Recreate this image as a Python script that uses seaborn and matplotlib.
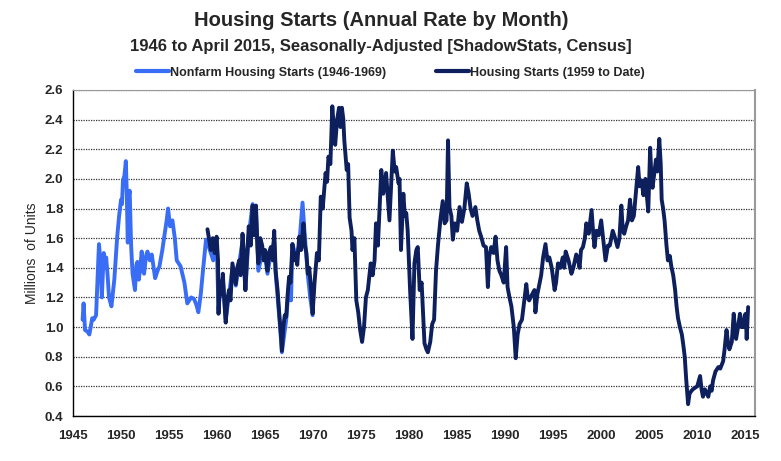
import pandas as pd
import numpy as np
import matplotlib
matplotlib.use("Agg")
import matplotlib.pyplot as plt
import seaborn as sns

# ==========================
# DATA
# ==========================
nonfarm_year = [
    1946.0, 1946.1, 1946.25, 1946.5, 1946.7, 1947.0, 1947.15, 1947.4, 1947.7, 1947.85,
    1948.0, 1948.2, 1948.35, 1948.45, 1948.6, 1948.75, 1949.0, 1949.3, 1949.6, 1949.8,
    1950.0, 1950.1, 1950.2, 1950.35, 1950.5, 1950.6, 1950.7, 1950.8, 1950.9, 1951.05,
    1951.2, 1951.45, 1951.6, 1951.7, 1951.85, 1952.0, 1952.15, 1952.3, 1952.4, 1952.6,
    1952.75, 1953.0, 1953.2, 1953.55, 1953.8, 1954.0, 1954.3, 1954.5, 1954.75, 1954.9,
    1955.1, 1955.35, 1955.6, 1955.8, 1956.2, 1956.6, 1956.9, 1957.3, 1957.6, 1957.85,
    1958.05, 1958.3, 1958.5, 1958.85, 1959.1, 1959.35, 1959.6, 1959.95, 1960.15, 1960.4,
    1960.6, 1960.9, 1961.25, 1961.6, 1961.95, 1962.3, 1962.65, 1962.95, 1963.3, 1963.7,
    1964.05, 1964.3, 1964.7, 1965.0, 1965.25, 1965.6, 1965.95, 1966.1, 1966.5, 1966.75,
    1967.2, 1967.5, 1967.7, 1967.85, 1968.2, 1968.55, 1968.9, 1969.1, 1969.45, 1969.7,
    1969.95,
]
nonfarm_val = [
    1.05, 1.16, 0.98, 0.97, 0.95, 1.06, 1.05, 1.08, 1.56, 1.45,
    1.20, 1.50, 1.40, 1.47, 1.35, 1.20, 1.14, 1.32, 1.61, 1.75,
    1.86, 1.83, 1.99, 2.02, 2.12, 1.90, 1.57, 1.88, 1.92, 1.55,
    1.36, 1.25, 1.42, 1.44, 1.32, 1.40, 1.51, 1.38, 1.36, 1.48,
    1.51, 1.45, 1.49, 1.33, 1.38, 1.41, 1.52, 1.61, 1.72, 1.80,
    1.68, 1.72, 1.60, 1.45, 1.41, 1.30, 1.16, 1.20, 1.19, 1.15,
    1.10, 1.22, 1.36, 1.59, 1.55, 1.50, 1.45, 1.58, 1.12, 1.30,
    1.33, 1.05, 1.22, 1.40, 1.28, 1.43, 1.58, 1.25, 1.62, 1.83,
    1.78, 1.38, 1.50, 1.48, 1.36, 1.50, 1.58, 1.36, 1.05, 0.83,
    1.05, 1.30, 1.18, 1.56, 1.48, 1.55, 1.84, 1.65, 1.35, 1.20,
    1.08,
]

starts_year = [
    1959.0, 1959.2, 1959.35, 1959.55, 1959.75, 1959.95, 1960.1, 1960.15, 1960.3, 1960.45,
    1960.6, 1960.75, 1960.9, 1961.1, 1961.25, 1961.4, 1961.6, 1961.8, 1961.95, 1962.1,
    1962.3, 1962.45, 1962.65, 1962.8, 1962.95, 1963.1, 1963.3, 1963.5, 1963.7, 1963.85,
    1964.05, 1964.2, 1964.3, 1964.5, 1964.7, 1964.85, 1965.0, 1965.25, 1965.4, 1965.6,
    1965.8, 1965.95, 1966.1, 1966.3, 1966.5, 1966.65, 1966.75, 1966.9, 1967.05, 1967.2,
    1967.35, 1967.5, 1967.65, 1967.85, 1968.0, 1968.2, 1968.35, 1968.55, 1968.75, 1969.0,
    1969.15, 1969.3, 1969.45, 1969.6, 1969.8, 1969.95, 1970.15, 1970.4, 1970.6, 1970.8,
    1971.0, 1971.3, 1971.45, 1971.6, 1971.8, 1972.0, 1972.15, 1972.3, 1972.5, 1972.7,
    1972.85, 1973.0, 1973.15, 1973.25, 1973.5, 1973.65, 1973.8, 1974.0, 1974.1, 1974.3,
    1974.5, 1974.7, 1974.9, 1975.1, 1975.3, 1975.5, 1975.7, 1976.0, 1976.2, 1976.4,
    1976.55, 1976.75, 1977.1, 1977.3, 1977.6, 1977.95, 1978.3, 1978.5, 1978.65, 1978.9,
    1979.0, 1979.15, 1979.4, 1979.55, 1979.7, 1979.85, 1980.1, 1980.35, 1980.55, 1980.75,
    1980.9, 1981.1, 1981.3, 1981.6, 1981.8, 1981.95, 1982.2, 1982.4, 1982.6, 1982.8,
    1983.0, 1983.25, 1983.5, 1983.7, 1983.9, 1984.05, 1984.2, 1984.4, 1984.55, 1984.75,
    1985.0, 1985.25, 1985.5, 1985.75, 1986.0, 1986.2, 1986.4, 1986.6, 1986.9, 1987.1,
    1987.3, 1987.5, 1987.75, 1988.0, 1988.2, 1988.35, 1988.55, 1988.8, 1989.0, 1989.2,
    1989.4, 1989.6, 1989.85, 1990.1, 1990.25, 1990.45, 1990.65, 1990.9, 1991.1, 1991.3,
    1991.5, 1991.75, 1992.0, 1992.2, 1992.35, 1992.5, 1992.8, 1993.05, 1993.15, 1993.35,
    1993.5, 1993.75, 1993.95, 1994.2, 1994.4, 1994.6, 1994.85, 1995.15, 1995.3, 1995.5,
    1995.75, 1996.0, 1996.15, 1996.3, 1996.6, 1996.9, 1997.1, 1997.4, 1997.6, 1997.75,
    1997.9, 1998.1, 1998.3, 1998.45, 1998.7, 1999.0, 1999.15, 1999.3, 1999.5, 1999.75,
    2000.0, 2000.2, 2000.45, 2000.7, 2000.9, 2001.2, 2001.45, 2001.7, 2001.9, 2002.1,
    2002.25, 2002.4, 2002.6, 2002.8, 2003.0, 2003.2, 2003.4, 2003.6, 2003.85, 2004.0,
    2004.2, 2004.4, 2004.6, 2004.9, 2005.1, 2005.25, 2005.35, 2005.55, 2005.7, 2005.85,
    2006.05, 2006.2, 2006.3, 2006.45, 2006.6, 2006.8, 2006.95, 2007.15, 2007.3, 2007.5,
    2007.7, 2007.85, 2008.0, 2008.2, 2008.4, 2008.55, 2008.7, 2008.85, 2009.05, 2009.2,
    2009.4, 2009.55, 2009.75, 2010.0, 2010.3, 2010.45, 2010.6, 2010.8, 2011.15, 2011.35,
    2011.5, 2011.65, 2011.9, 2012.2, 2012.4, 2012.7, 2012.85, 2013.05, 2013.2, 2013.35,
    2013.6, 2013.8, 2013.95, 2014.05, 2014.25, 2014.45, 2014.6, 2014.8, 2014.95, 2015.05,
    2015.15, 2015.3,
]
starts_val = [
    1.66, 1.58, 1.52, 1.60, 1.50, 1.61, 1.45, 1.09, 1.30, 1.22,
    1.36, 1.18, 1.03, 1.20, 1.25, 1.18, 1.43, 1.35, 1.29, 1.40,
    1.45, 1.35, 1.63, 1.48, 1.25, 1.45, 1.68, 1.55, 1.82, 1.62,
    1.82, 1.55, 1.43, 1.60, 1.55, 1.45, 1.52, 1.38, 1.50, 1.54,
    1.45, 1.65, 1.38, 1.25, 1.07, 0.95, 0.84, 1.00, 1.08, 1.07,
    1.22, 1.34, 1.30, 1.56, 1.45, 1.50, 1.42, 1.61, 1.52, 1.70,
    1.55, 1.50, 1.36, 1.40, 1.25, 1.09, 1.30, 1.50, 1.45, 1.88,
    1.80, 2.04, 1.98, 2.15, 2.10, 2.49, 2.35, 2.23, 2.40, 2.48,
    2.35, 2.48, 2.40, 2.26, 2.06, 2.10, 1.74, 1.65, 1.52, 1.60,
    1.18, 1.10, 0.98, 0.90, 1.00, 1.20, 1.25, 1.43, 1.35, 1.45,
    1.70, 1.55, 2.06, 1.90, 2.04, 1.72, 2.19, 2.05, 2.08, 1.97,
    2.00, 1.52, 1.90, 1.75, 1.77, 1.65, 1.25, 0.92, 1.43, 1.52,
    1.54, 1.25, 1.30, 0.89, 0.85, 0.83, 0.90, 1.02, 1.05, 1.38,
    1.55, 1.72, 1.85, 1.70, 1.72, 2.26, 1.81, 1.75, 1.59, 1.70,
    1.65, 1.81, 1.71, 1.80, 1.97, 1.90, 1.80, 1.75, 1.81, 1.72,
    1.65, 1.61, 1.55, 1.54, 1.27, 1.48, 1.54, 1.50, 1.61, 1.45,
    1.38, 1.35, 1.30, 1.54, 1.27, 1.20, 1.14, 1.00, 0.79, 0.95,
    1.02, 1.05, 1.18, 1.29, 1.20, 1.18, 1.22, 1.25, 1.10, 1.22,
    1.27, 1.35, 1.47, 1.56, 1.45, 1.47, 1.40, 1.25, 1.30, 1.43,
    1.40, 1.47, 1.40, 1.51, 1.45, 1.36, 1.40, 1.49, 1.45, 1.40,
    1.52, 1.54, 1.60, 1.70, 1.63, 1.79, 1.65, 1.54, 1.65, 1.62,
    1.72, 1.60, 1.45, 1.55, 1.55, 1.65, 1.60, 1.54, 1.60, 1.82,
    1.65, 1.63, 1.68, 1.72, 1.86, 1.72, 1.75, 1.90, 2.08, 1.95,
    1.99, 1.89, 2.00, 1.78, 2.21, 1.98, 1.94, 2.05, 2.13, 2.05,
    2.27, 2.10, 1.86, 1.80, 1.72, 1.55, 1.45, 1.48, 1.41, 1.35,
    1.25, 1.14, 1.06, 1.00, 0.95, 0.88, 0.80, 0.65, 0.48, 0.55,
    0.57, 0.58, 0.59, 0.60, 0.67, 0.58, 0.53, 0.58, 0.53, 0.60,
    0.57, 0.64, 0.70, 0.73, 0.72, 0.77, 0.85, 0.98, 0.90, 0.85,
    0.90, 1.09, 0.98, 0.92, 1.00, 1.09, 1.00, 1.00, 1.08, 1.09,
    0.92, 1.135,
]

light_blue = "#3a6df5"
navy = "#0d1f5c"

nonfarm = pd.DataFrame({"year": nonfarm_year, "units": nonfarm_val})
starts = pd.DataFrame({"year": starts_year, "units": starts_val})

# ==========================
# PLOT
# ==========================
sns.set_style("white")
plt.rcParams["font.family"] = ["Liberation Sans", "DejaVu Sans"]

fig = plt.figure(figsize=(7.81, 4.61), dpi=100)
ax = fig.add_axes([0.0935, 0.0976, 0.873, 0.7072])

sns.lineplot(data=nonfarm, x="year", y="units", ax=ax, color=light_blue,
             linewidth=2.8, estimator=None, label="Nonfarm Housing Starts (1946-1969)")
sns.lineplot(data=starts, x="year", y="units", ax=ax, color=navy,
             linewidth=2.8, estimator=None, label="Housing Starts (1959 to Date)")

ax.set_xlim(1945, 2016)
ax.set_ylim(0.4, 2.6)
ax.set_xticks(np.arange(1945, 2016, 5))
ax.set_yticks(np.arange(0.4, 2.61, 0.2))
ax.set_yticklabels([f"{v:.1f}" for v in np.arange(0.4, 2.61, 0.2)])
ax.tick_params(axis="both", direction="out", length=4, width=1, color="black",
               labelsize=9.5)
ax.tick_params(axis="x", pad=6)
ax.tick_params(axis="y", pad=3)
for lab in ax.get_xticklabels() + ax.get_yticklabels():
    lab.set_fontweight("bold")

ax.yaxis.grid(True, color="#333333", linestyle=(0, (1, 1)), linewidth=0.9)
ax.xaxis.grid(False)
ax.set_axisbelow(True)

ax.spines["left"].set_color("black")
ax.spines["bottom"].set_color("black")
ax.spines["left"].set_linewidth(1)
ax.spines["bottom"].set_linewidth(1)
ax.spines["top"].set_color("#9a9a9a")
ax.spines["top"].set_linestyle((0, (2, 1)))
ax.spines["right"].set_color("#9a9a9a")
ax.spines["right"].set_linewidth(1.5)

ax.set_xlabel("")
ax.set_ylabel("Millions  of Units", fontsize=10, labelpad=4)

ax.legend_.remove()
handles, labels = ax.get_legend_handles_labels()
leg = fig.legend(handles, labels, loc="center", bbox_to_anchor=(0.500, 0.842),
                 ncol=2, frameon=False, handlelength=2.6, handletextpad=0.1,
                 columnspacing=4.0, prop={"size": 9, "weight": "bold"})
for line in leg.get_lines():
    line.set_linewidth(3)

fig.text(0.488, 0.955, "Housing Starts (Annual Rate by Month)",
         ha="center", va="center", fontsize=14.5, fontweight="bold")
fig.text(0.488, 0.900, "1946 to April 2015, Seasonally-Adjusted [ShadowStats, Census]",
         ha="center", va="center", fontsize=12, fontweight="bold")

fig.savefig("out.png", dpi=100)
